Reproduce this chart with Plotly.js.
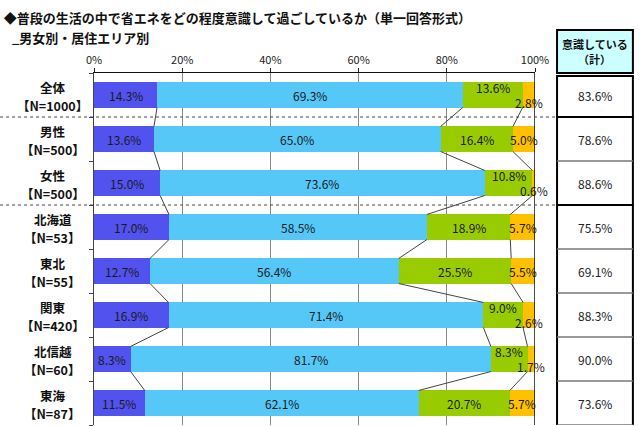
<!DOCTYPE html>
<html>
<head>
<meta charset="utf-8">
<script src="https://cdn.plot.ly/plotly-3.0.1.min.js"></script>
<style>
  html, body { margin: 0; padding: 0; background: #fff; }
  #chart { width: 640px; height: 426px; }
</style>
</head>
<body>
<div id="chart"></div>
<script>
// Data
const categories = ['全体', '男性', '女性', '北海道', '東北', '関東', '北信越', '東海'];
const sampleSizes = [1000, 500, 500, 53, 55, 420, 60, 87];
const groups = ['total', 'gender', 'gender', 'area', 'area', 'area', 'area', 'area'];
const seriesNames = ['意識している', 'ある程度意識している', 'あまり意識していない', '全く意識していない'];
const strongly = [14.3, 13.6, 15.0, 17.0, 12.7, 16.9, 8.3, 11.5];
const somewhat = [69.3, 65.0, 73.6, 58.5, 56.4, 71.4, 81.7, 62.1];
const notMuch = [13.6, 16.4, 10.8, 18.9, 25.5, 9.0, 8.3, 20.7];
const notAtAll = [2.8, 5.0, 0.6, 5.7, 5.5, 2.6, 1.7, 5.7];
const consciousTotal = [83.6, 78.6, 88.6, 75.5, 69.1, 88.3, 90.0, 73.6];
const xTicks = [0, 20, 40, 60, 80, 100];

const colors = ['#5252ee', '#55c8f8', '#99cc00', '#ffc000'];
const series = [strongly, somewhat, notMuch, notAtAll];
const font = '"Noto Sans CJK JP", "Noto Sans", sans-serif';
const barWidth = 0.57;
const rows = categories.map((c, i) => i);

// table column, in paper units
const tblX0 = 1.05, tblX1 = 1.222, tblMid = (tblX0 + tblX1) / 2;

var data = [];
series.forEach(function (vals, k) {
    data.push({
        type: 'bar',
        orientation: 'h',
        name: seriesNames[k],
        x: vals,
        y: rows,
        width: barWidth,
        marker: { color: colors[k] },
        hoverinfo: 'name+x',
        showlegend: false
    });
});

// series lines between neighbouring bars
for (let k = 1; k < series.length; k++) {
    let xs = [], ys = [];
    for (let i = 0; i < rows.length - 1; i++) {
        let a = 0, b = 0;
        for (let j = 0; j < k; j++) { a += series[j][i]; b += series[j][i + 1]; }
        xs.push(a, b, null);
        ys.push(i + barWidth / 2, i + 1 - barWidth / 2, null);
    }
    data.push({
        type: 'scatter', mode: 'lines', x: xs, y: ys,
        line: { color: '#444', width: 1 },
        hoverinfo: 'skip', showlegend: false
    });
}

var annotations = [];

// row labels on the left, two lines each
rows.forEach(function (i) {
    annotations.push({
        xref: 'paper', yref: 'y', x: -0.093, y: i, yshift: 8, borderpad: 0,
        text: '<b>' + categories[i] + '</b>',
        showarrow: false, xanchor: 'center', yanchor: 'middle',
        font: { family: font, size: 12.5, color: '#111' }
    });
    annotations.push({
        xref: 'paper', yref: 'y', x: -0.093, y: i, yshift: -10, borderpad: 0,
        text: '<b>【N=' + sampleSizes[i] + '】</b>',
        showarrow: false, xanchor: 'center', yanchor: 'middle',
        font: { family: font, size: 12.5, color: '#111' }
    });
});

// segment labels
rows.forEach(function (i) {
    let start = 0;
    let smallLast = notAtAll[i] < 3;
    series.forEach(function (vals, k) {
        let v = vals[i];
        let shift = 0;
        if (smallLast && k === 2) shift = 8;
        if (smallLast && k === 3) shift = -7;
        annotations.push({
            xref: 'x', yref: 'y', x: start + v / 2, y: i, yshift: shift,
            text: v.toFixed(1) + '%', showarrow: false,
            xanchor: 'center', yanchor: 'middle',
            font: { family: font, size: 12, color: '#1a1a1a' }
        });
        start += v;
    });
});

// table: header (two lines) and values
annotations.push({
    xref: 'paper', yref: 'paper', x: tblMid, y: 1.063, yshift: 7, borderpad: 0,
    text: '<b>意識している</b>', showarrow: false,
    xanchor: 'center', yanchor: 'middle',
    font: { family: font, size: 11, color: '#111' }
});
annotations.push({
    xref: 'paper', yref: 'paper', x: tblMid, y: 1.063, yshift: -8, borderpad: 0,
    text: '<b>（計）</b>', showarrow: false,
    xanchor: 'center', yanchor: 'middle',
    font: { family: font, size: 11, color: '#111' }
});
rows.forEach(function (i) {
    annotations.push({
        xref: 'paper', yref: 'y', x: tblMid, y: i,
        text: consciousTotal[i].toFixed(1) + '%', showarrow: false,
        xanchor: 'center', yanchor: 'middle',
        font: { family: font, size: 12, color: '#222' }
    });
});

// subtitle
annotations.push({
    xref: 'paper', yref: 'paper', x: -0.19, y: 1.1,
    text: '<b>_男女別・居住エリア別</b>', showarrow: false,
    xanchor: 'left', yanchor: 'middle',
    font: { family: font, size: 13, color: '#111' }
});

var shapes = [];

// 100% line
shapes.push({
    type: 'line', xref: 'x', yref: 'paper', x0: xTicks[xTicks.length - 1], x1: xTicks[xTicks.length - 1],
    y0: 0, y1: 1, line: { color: '#111', width: 1.5 }
});

// header box
shapes.push({
    type: 'rect', xref: 'paper', yref: 'paper', x0: tblX0, x1: tblX1, y0: 1.0, y1: 1.122,
    fillcolor: '#ccffff', line: { color: '#000', width: 2 }
});

// group boxes, dividers and dotted separators
let runStart = 0;
for (let i = 1; i <= rows.length; i++) {
    if (i === rows.length || groups[i] !== groups[runStart]) {
        let last = i - 1;
        let isLastGroup = i === rows.length;
        shapes.push({
            type: 'rect', xref: 'paper', yref: 'y', x0: tblX0, x1: tblX1,
            y0: runStart === 0 ? runStart - 0.43 : runStart - 0.5,
            y1: isLastGroup ? last + 1.5 : last + 0.5,
            line: { color: '#000', width: 2 }
        });
        let stop = isLastGroup ? last + 1 : last;
        for (let r = runStart; r < stop; r++) {
            shapes.push({
                type: 'line', xref: 'paper', yref: 'y', x0: tblX0, x1: tblX1,
                y0: r + 0.5, y1: r + 0.5, line: { color: '#777', width: 1.5 }
            });
        }
        if (!isLastGroup) {
            shapes.push({
                type: 'line', xref: 'paper', yref: 'y', x0: -0.213, x1: tblX0,
                y0: last + 0.5, y1: last + 0.5, line: { color: '#444', width: 1, dash: 'dot' }
            });
        }
        runStart = i;
    }
}

var layout = {
    width: 640,
    height: 426,
    margin: { l: 94, r: 105, t: 73, b: 1 },
    paper_bgcolor: '#fff',
    plot_bgcolor: '#fff',
    barmode: 'stack',
    showlegend: false,
    font: { family: font, color: '#222' },
    title: {
        text: '<b>◆普段の生活の中で省エネをどの程度意識して過ごしているか（単一回答形式）</b>',
        x: 0.006, xanchor: 'left', xref: 'container',
        y: 1 - 18 / 426, yanchor: 'middle', yref: 'container',
        font: { family: font, size: 13, color: '#111' }
    },
    xaxis: {
        side: 'top',
        range: [0, 100],
        tickvals: xTicks,
        ticktext: xTicks.map(t => t + '%'),
        ticks: 'outside',
        ticklen: 4,
        tickcolor: '#222',
        showline: true,
        linecolor: '#111',
        linewidth: 1,
        showgrid: true,
        gridcolor: '#888',
        gridwidth: 1,
        zeroline: false,
        tickfont: { family: font, size: 11, color: '#222' },
        fixedrange: true
    },
    yaxis: {
        range: [rows.length - 0.5, -0.5],
        tickvals: [-0.5].concat(rows.map(i => i + 0.5)),
        showticklabels: false,
        ticks: 'outside',
        ticklen: 4,
        tickcolor: '#444',
        showline: true,
        linecolor: '#444',
        linewidth: 1,
        showgrid: false,
        zeroline: false,
        fixedrange: true
    },
    annotations: annotations,
    shapes: shapes
};

Plotly.newPlot('chart', data, layout, { displayModeBar: false, staticPlot: true });
</script>
</body>
</html>
